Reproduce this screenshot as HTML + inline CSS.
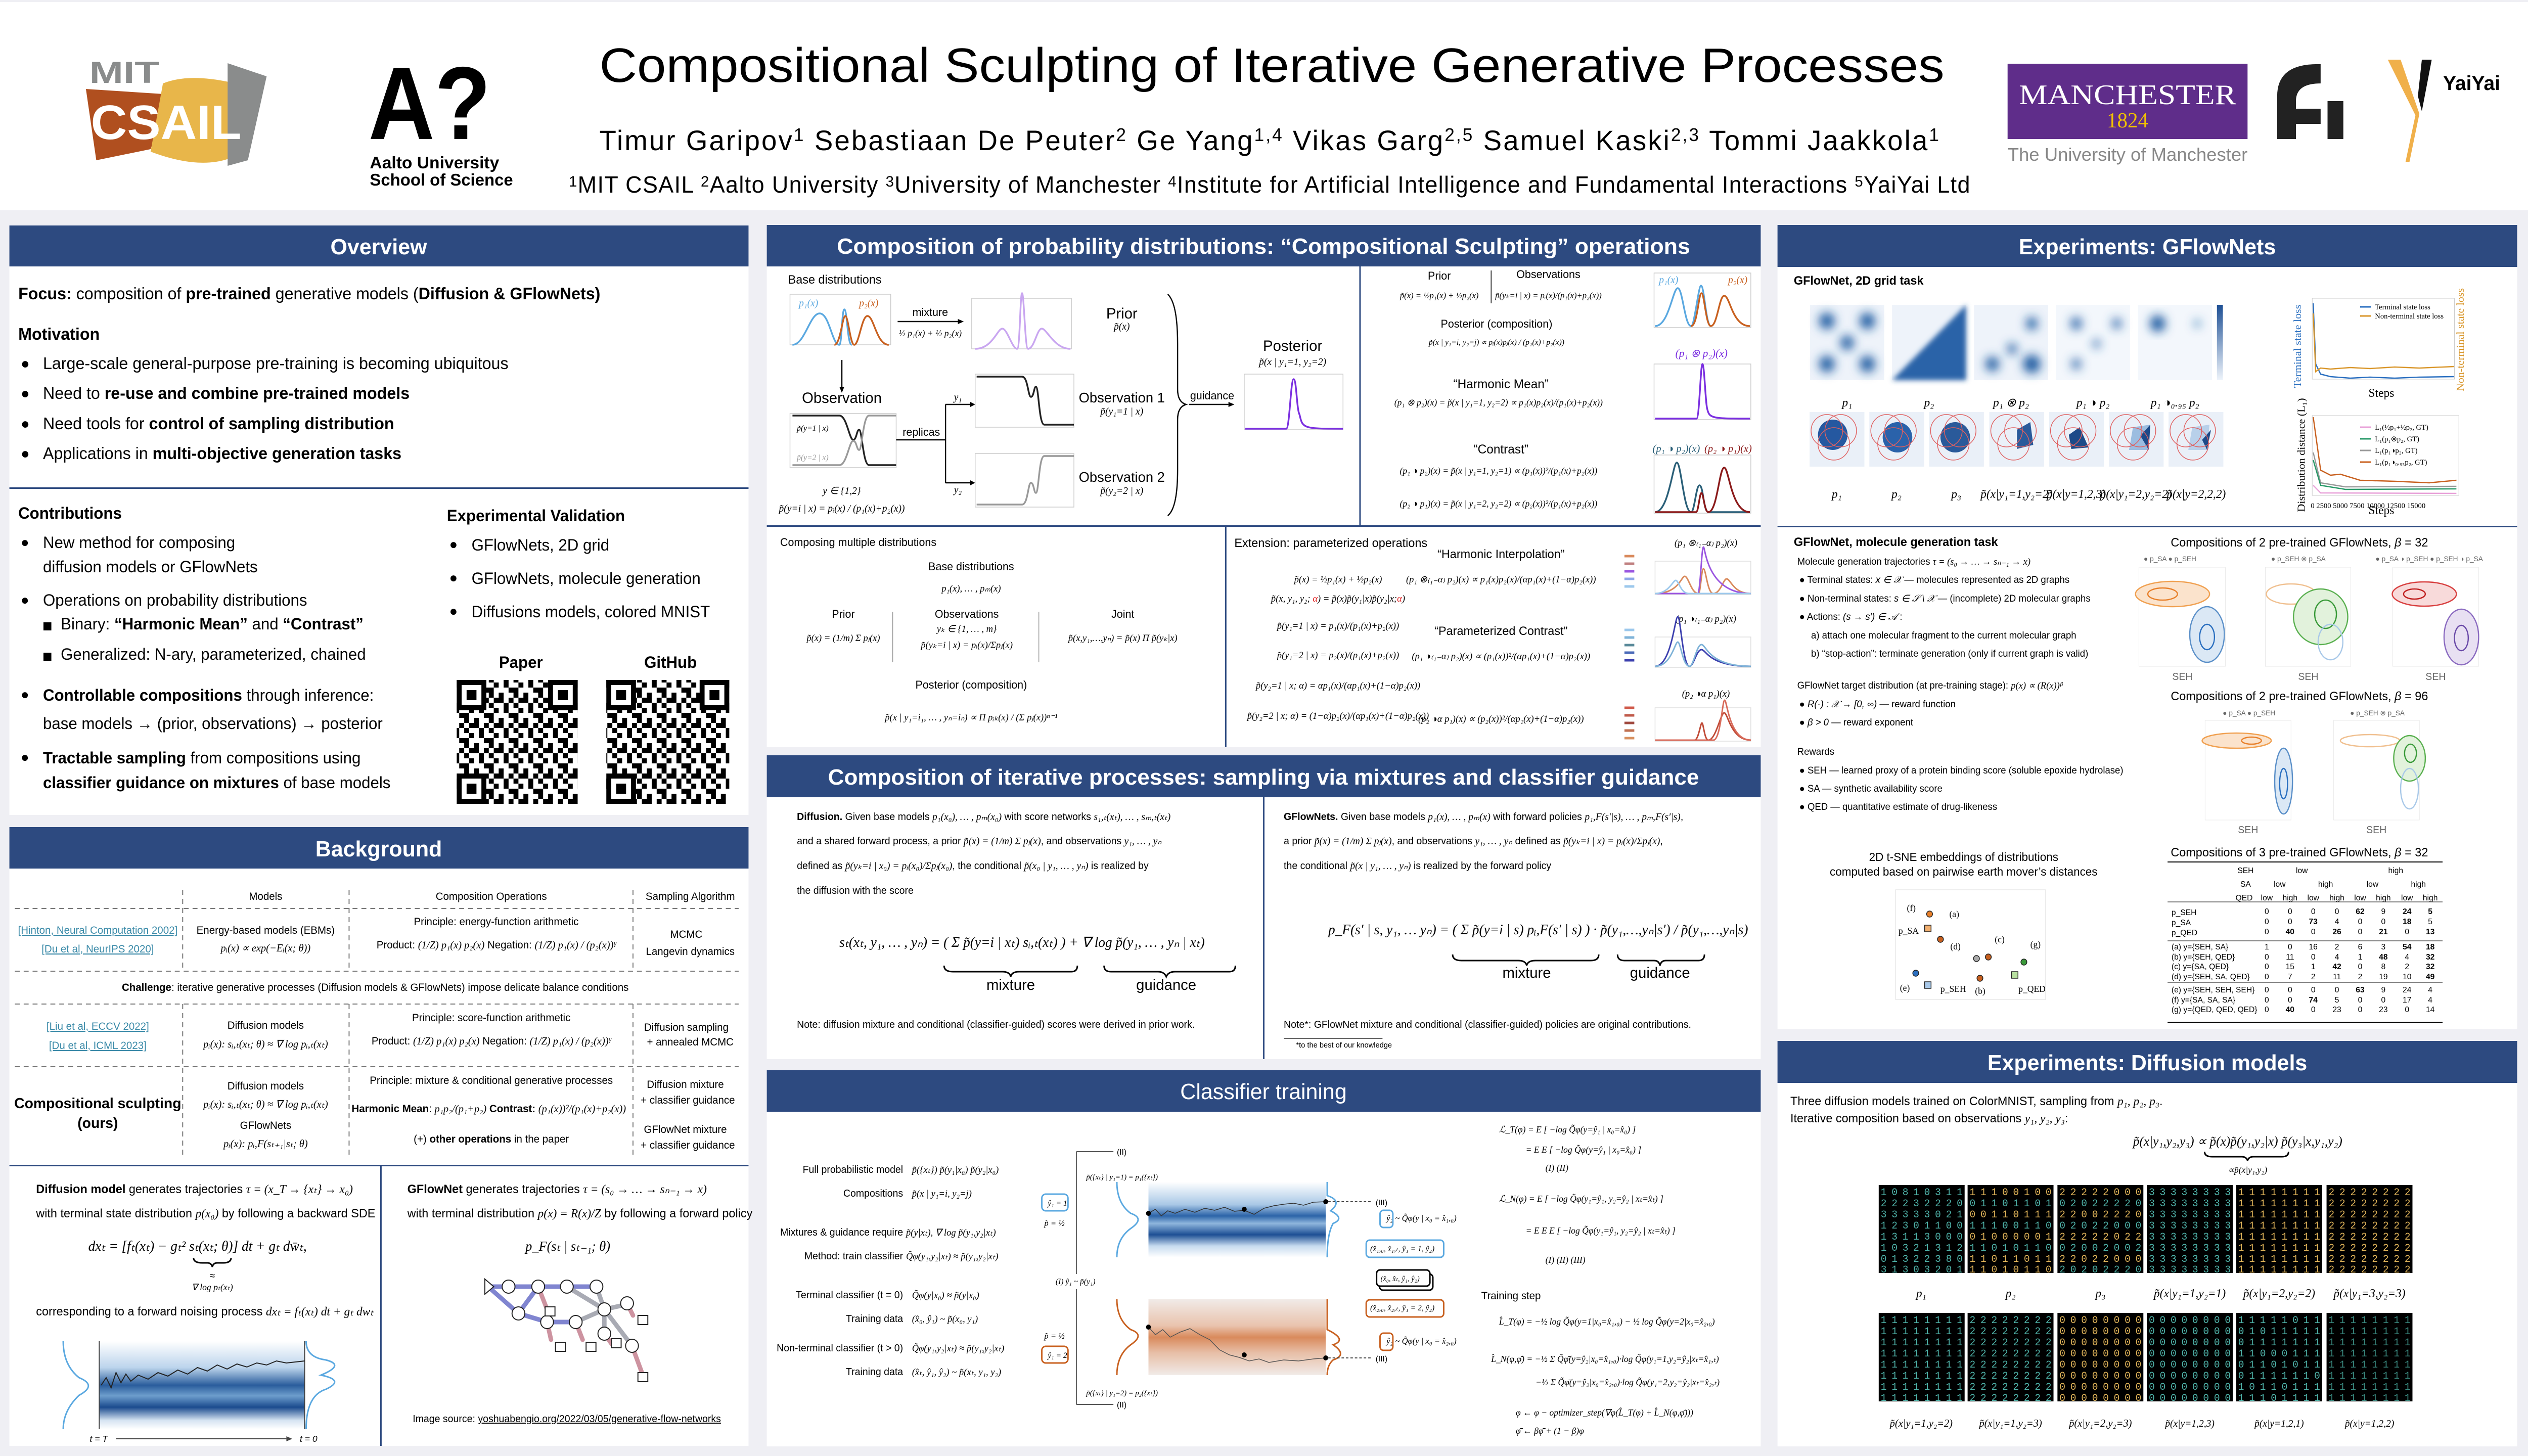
<!DOCTYPE html>
<html><head><meta charset="utf-8"><style>
html,body{margin:0;padding:0;background:#efeff4;width:100%;height:100%;overflow:hidden}
svg{display:block;width:100vw;height:100vh}
</style></head><body>
<svg xmlns="http://www.w3.org/2000/svg" viewBox="0 0 5120 2880" preserveAspectRatio="none" font-family="Liberation Sans, sans-serif">
<defs>
<filter id="bl" x="-50%" y="-50%" width="200%" height="200%"><feGaussianBlur stdDeviation="10"/></filter>
<filter id="bl2" x="-50%" y="-50%" width="200%" height="200%"><feGaussianBlur stdDeviation="5"/></filter>
<pattern id="qr" width="50" height="50" patternUnits="userSpaceOnUse">
<rect width="50" height="50" fill="#fff"/>
<rect x="0" y="0" width="10" height="10"/><rect x="20" y="0" width="10" height="10"/><rect x="30" y="10" width="20" height="10"/><rect x="10" y="20" width="10" height="10"/><rect x="40" y="20" width="10" height="10"/><rect x="0" y="30" width="20" height="10"/><rect x="30" y="30" width="10" height="10"/><rect x="20" y="40" width="10" height="10"/><rect x="40" y="40" width="10" height="10"/>
</pattern>
<linearGradient id="lg1" x1="0" y1="0" x2="0" y2="1"><stop offset="0" stop-color="#fff"/><stop offset="0.3" stop-color="#a9c8e6"/><stop offset="0.45" stop-color="#2c64a8"/><stop offset="0.55" stop-color="#8fb6dd"/><stop offset="0.7" stop-color="#1d4f94"/><stop offset="0.85" stop-color="#c7dbef"/><stop offset="1" stop-color="#fff"/></linearGradient>
<linearGradient id="lg2" x1="0" y1="0" x2="0" y2="1"><stop offset="0" stop-color="#f1ebe8"/><stop offset="0.35" stop-color="#e9c3ad"/><stop offset="0.5" stop-color="#d98a5c"/><stop offset="0.7" stop-color="#e7bda5"/><stop offset="1" stop-color="#f1ebe8"/></linearGradient>
<linearGradient id="lg3" x1="0" y1="0" x2="0" y2="1"><stop offset="0" stop-color="#fff"/><stop offset="0.3" stop-color="#bcd4ec"/><stop offset="0.5" stop-color="#2a5d9c"/><stop offset="0.62" stop-color="#6d9dcc"/><stop offset="0.75" stop-color="#1b4b8e"/><stop offset="0.9" stop-color="#d6e4f2"/><stop offset="1" stop-color="#fff"/></linearGradient>
<linearGradient id="cb" x1="0" y1="0" x2="0" y2="1"><stop offset="0" stop-color="#1d4f94"/><stop offset="1" stop-color="#eef4fb"/></linearGradient>
</defs>
<rect width="5120" height="2880" fill="#efeff4"/>
<!-- HEADER -->
<rect x="0" y="4" width="5120" height="412" fill="#fff"/>
<text x="181" y="164" font-size="60" font-weight="bold" fill="#8a8c8c" textLength="142" lengthAdjust="spacingAndGlyphs">MIT</text>
<polygon points="174,176 347,187 305,295 195,317" fill="#b04f1f"/>
<path d="M330,165 Q380,145 463,162 L463,314 Q400,335 305,300 Z" fill="#e8b64a"/>
<polygon points="461,125 540,151 502,317 461,328" fill="#8a8c8c"/>
<text x="184" y="275" font-size="96" font-weight="bold" fill="#fff" textLength="305" lengthAdjust="spacingAndGlyphs">CSAIL</text>
<text x="746" y="275" font-size="205" font-weight="bold" fill="#000" textLength="248" lengthAdjust="spacingAndGlyphs">A?</text>
<text x="749" y="333" font-size="33" font-weight="bold" textLength="262" lengthAdjust="spacingAndGlyphs">Aalto University</text>
<text x="749" y="367" font-size="33" font-weight="bold" textLength="290" lengthAdjust="spacingAndGlyphs">School of Science</text>
<text x="2576" y="162" font-size="96" text-anchor="middle" textLength="2724" lengthAdjust="spacingAndGlyphs">Compositional Sculpting of Iterative Generative Processes</text>
<text x="1214" y="297" font-size="56" textLength="2713" lengthAdjust="spacing">Timur Garipov<tspan font-size="36" dy="-18">1</tspan><tspan dy="18">   Sebastiaan De Peuter</tspan><tspan font-size="36" dy="-18">2</tspan><tspan dy="18">   Ge Yang</tspan><tspan font-size="36" dy="-18">1,4</tspan><tspan dy="18">   Vikas Garg</tspan><tspan font-size="36" dy="-18">2,5</tspan><tspan dy="18">   Samuel Kaski</tspan><tspan font-size="36" dy="-18">2,3</tspan><tspan dy="18">   Tommi Jaakkola</tspan><tspan font-size="36" dy="-18">1</tspan></text>
<text x="1152" y="381" font-size="46" textLength="2838" lengthAdjust="spacing"><tspan font-size="30" dy="-12">1</tspan><tspan dy="12">MIT CSAIL   </tspan><tspan font-size="30" dy="-12">2</tspan><tspan dy="12">Aalto University   </tspan><tspan font-size="30" dy="-12">3</tspan><tspan dy="12">University of Manchester   </tspan><tspan font-size="30" dy="-12">4</tspan><tspan dy="12">Institute for Artificial Intelligence and Fundamental Interactions   </tspan><tspan font-size="30" dy="-12">5</tspan><tspan dy="12">YaiYai Ltd</tspan></text>
<rect x="4066" y="126" width="486" height="149" fill="#5f2d8a"/>
<text x="4309" y="206" font-size="56" fill="#fff" text-anchor="middle" font-family="Liberation Serif, serif" textLength="440" lengthAdjust="spacingAndGlyphs">MANCHESTER</text>
<text x="4309" y="252" font-size="42" fill="#f2c200" text-anchor="middle" font-family="Liberation Serif, serif">1824</text>
<text x="4309" y="318" font-size="36" fill="#888" text-anchor="middle" textLength="486" lengthAdjust="spacingAndGlyphs">The University of Manchester</text>
<path d="M4612,275 L4612,190 Q4612,128 4690,127 L4700,127 L4700,165 Q4650,165 4650,200 L4650,215 L4700,215 L4700,245 L4650,245 L4650,275 Z" fill="#222"/>
<rect x="4714" y="200" width="32" height="75" fill="#222"/>
<polygon points="4836,118 4862,118 4900,225 4880,320 4872,320 4892,228" fill="#f0b04a"/>
<polygon points="4905,118 4925,118 4905,220 4897,190" fill="#111"/>
<text x="4948" y="178" font-size="40" font-weight="bold">YaiYai</text>

<!-- PANELS -->
<g fill="#fff">
<rect x="19" y="446" width="1497" height="1166"/>
<rect x="19" y="1636" width="1497" height="1224"/>
<rect x="1553" y="445" width="2013" height="1033"/>
<rect x="1553" y="1494" width="2013" height="601"/>
<rect x="1553" y="2117" width="2013" height="744"/>
<rect x="3600" y="445" width="1498" height="1591"/>
<rect x="3600" y="2059" width="1498" height="802"/>
</g>
<g fill="#2d4a80">
<rect x="19" y="446" width="1497" height="81"/>
<rect x="19" y="1636" width="1497" height="82"/>
<rect x="1553" y="445" width="2013" height="82"/>
<rect x="1553" y="1494" width="2013" height="83"/>
<rect x="1553" y="2117" width="2013" height="82"/>
<rect x="3600" y="445" width="1498" height="83"/>
<rect x="3600" y="2059" width="1498" height="83"/>
</g>
<g fill="#fff" font-weight="bold" font-size="44" text-anchor="middle">
<text x="767" y="503">Overview</text>
<text x="767" y="1694">Background</text>
<text x="2559" y="502" textLength="1728" lengthAdjust="spacingAndGlyphs">Composition of probability distributions: “Compositional Sculpting” operations</text>
<text x="2559" y="1552" textLength="1764" lengthAdjust="spacingAndGlyphs">Composition of iterative processes: sampling via mixtures and classifier guidance</text>
<text x="2559" y="2174" font-weight="normal">Classifier training</text>
<text x="4349" y="503">Experiments: GFlowNets</text>
<text x="4349" y="2117">Experiments: Diffusion models</text>
</g>

<!-- OVERVIEW -->
<g font-size="33">
<text x="37" y="592"><tspan font-weight="bold">Focus:</tspan> composition of <tspan font-weight="bold">pre-trained</tspan> generative models (<tspan font-weight="bold">Diffusion &amp; GFlowNets)</tspan></text>
<text x="37" y="672" font-weight="bold">Motivation</text>
<g font-size="30"><text x="42" y="729">●</text><text x="42" y="788">●</text><text x="42" y="848">●</text><text x="42" y="907">●</text></g>
<text x="87" y="730">Large-scale general-purpose pre-training is becoming ubiquitous</text>
<text x="87" y="789">Need to <tspan font-weight="bold">re-use and combine pre-trained models</tspan></text>
<text x="87" y="849">Need tools for <tspan font-weight="bold">control of sampling distribution</tspan></text>
<text x="87" y="908">Applications in <tspan font-weight="bold">multi-objective generation tasks</tspan></text>
</g>
<rect x="19" y="964" width="1497" height="3" fill="#2d4a80"/>
<g font-size="32">
<text x="37" y="1026" font-weight="bold">Contributions</text>
<g font-size="28"><text x="42" y="1082">●</text><text x="42" y="1196">●</text><text x="42" y="1383">●</text><text x="42" y="1507">●</text></g>
<text x="87" y="1084">New method for composing</text>
<text x="87" y="1132">diffusion models or GFlowNets</text>
<text x="87" y="1198">Operations on probability distributions</text>
<rect x="88" y="1231" width="16" height="16"/><rect x="88" y="1291" width="16" height="16"/>
<text x="123" y="1245">Binary: <tspan font-weight="bold">“Harmonic Mean”</tspan> and <tspan font-weight="bold">“Contrast”</tspan></text>
<text x="123" y="1305">Generalized: N-ary, parameterized, chained</text>
<text x="87" y="1386"><tspan font-weight="bold">Controllable compositions</tspan> through inference:</text>
<text x="87" y="1442">base models → (prior, observations) → posterior</text>
<text x="87" y="1510"><tspan font-weight="bold">Tractable sampling</tspan> from compositions using</text>
<text x="87" y="1559"><tspan font-weight="bold">classifier guidance on mixtures</tspan> of base models</text>
<text x="905" y="1031" font-weight="bold">Experimental Validation</text>
<g font-size="28"><text x="910" y="1086">●</text><text x="910" y="1152">●</text><text x="910" y="1218">●</text></g>
<text x="955" y="1089">GFlowNets, 2D grid</text>
<text x="955" y="1155">GFlowNets, molecule generation</text>
<text x="955" y="1221">Diffusions models, colored MNIST</text>
<text x="1055" y="1321" font-weight="bold" text-anchor="middle">Paper</text>
<text x="1358" y="1321" font-weight="bold" text-anchor="middle">GitHub</text>
</g>
<g>
<rect x="925" y="1345" width="245" height="245" fill="url(#qr)"/>
<rect x="1228" y="1345" width="249" height="245" fill="url(#qr)"/>
<g fill="#fff" stroke="#000" stroke-width="10">
<rect x="930" y="1350" width="50" height="50"/><rect x="1115" y="1350" width="50" height="50"/><rect x="930" y="1535" width="50" height="50"/>
<rect x="1233" y="1350" width="50" height="50"/><rect x="1422" y="1350" width="50" height="50"/><rect x="1233" y="1535" width="50" height="50"/>
</g>
<g fill="#000"><rect x="945" y="1365" width="20" height="20"/><rect x="1130" y="1365" width="20" height="20"/><rect x="945" y="1550" width="20" height="20"/><rect x="1248" y="1365" width="20" height="20"/><rect x="1437" y="1365" width="20" height="20"/><rect x="1248" y="1550" width="20" height="20"/></g>
</g>

<!-- BACKGROUND TABLE -->
<g stroke="#777" stroke-width="2" stroke-dasharray="10,8">
<line x1="370" y1="1760" x2="370" y2="1921"/><line x1="707" y1="1760" x2="707" y2="1921"/><line x1="1282" y1="1760" x2="1282" y2="1921"/>
<line x1="370" y1="1986" x2="370" y2="2290"/><line x1="707" y1="1986" x2="707" y2="2290"/><line x1="1282" y1="1986" x2="1282" y2="2290"/>
<line x1="30" y1="1797" x2="1496" y2="1797"/><line x1="30" y1="1921" x2="1496" y2="1921"/><line x1="30" y1="1986" x2="1496" y2="1986"/><line x1="30" y1="2110" x2="1496" y2="2110"/>
</g>
<g font-size="21" text-anchor="middle">
<text x="538" y="1780">Models</text><text x="995" y="1780">Composition Operations</text><text x="1398" y="1780">Sampling Algorithm</text>
<g fill="#3a8aa8" text-decoration="underline"><text x="198" y="1847">[Hinton, Neural Computation 2002]</text><text x="198" y="1884">[Du et al, NeurIPS 2020]</text><text x="198" y="2037">[Liu et al, ECCV 2022]</text><text x="198" y="2075">[Du et al, ICML 2023]</text></g>
<text x="538" y="1847">Energy-based models (EBMs)</text>
<text x="538" y="1882" font-family="Liberation Serif, serif" font-style="italic">pᵢ(x) ∝ exp(−Eᵢ(x; θ))</text>
<text x="1005" y="1830">Principle: energy-function arithmetic</text>
<text x="1005" y="1876">Product: <tspan font-family="Liberation Serif, serif" font-style="italic">(1/Z) p₁(x) p₂(x)</tspan>    Negation: <tspan font-family="Liberation Serif, serif" font-style="italic">(1/Z) p₁(x) / (p₂(x))ᵞ</tspan></text>
<text x="1390" y="1855">MCMC</text><text x="1398" y="1889">Langevin dynamics</text>
<text x="760" y="1960"><tspan font-weight="bold">Challenge</tspan>: iterative generative processes (Diffusion models &amp; GFlowNets) impose delicate balance conditions</text>
<text x="538" y="2035">Diffusion models</text>
<text x="538" y="2072" font-family="Liberation Serif, serif" font-style="italic">pᵢ(x): sᵢ,ₜ(xₜ; θ) ≈ ∇ log pᵢ,ₜ(xₜ)</text>
<text x="995" y="2020">Principle: score-function arithmetic</text>
<text x="995" y="2066">Product: <tspan font-family="Liberation Serif, serif" font-style="italic">(1/Z) p₁(x) p₂(x)</tspan>    Negation: <tspan font-family="Liberation Serif, serif" font-style="italic">(1/Z) p₁(x) / (p₂(x))ᵞ</tspan></text>
<text x="1390" y="2039">Diffusion sampling</text><text x="1398" y="2068">+ annealed MCMC</text>
<text x="198" y="2192" font-size="29" font-weight="bold">Compositional sculpting</text>
<text x="198" y="2231" font-size="29" font-weight="bold">(ours)</text>
<text x="538" y="2155">Diffusion models</text>
<text x="538" y="2191" font-family="Liberation Serif, serif" font-style="italic">pᵢ(x): sᵢ,ₜ(xₜ; θ) ≈ ∇ log pᵢ,ₜ(xₜ)</text>
<text x="538" y="2233">GFlowNets</text>
<text x="538" y="2269" font-family="Liberation Serif, serif" font-style="italic">pᵢ(x): pᵢ,F(sₜ₊₁|sₜ; θ)</text>
<text x="995" y="2144">Principle: mixture &amp; conditional generative processes</text>
<text x="990" y="2200"><tspan font-weight="bold">Harmonic Mean</tspan>: <tspan font-family="Liberation Serif, serif" font-style="italic">p₁p₂/(p₁+p₂)</tspan>   <tspan font-weight="bold">Contrast:</tspan> <tspan font-family="Liberation Serif, serif" font-style="italic">(p₁(x))²/(p₁(x)+p₂(x))</tspan></text>
<text x="995" y="2260">(+) <tspan font-weight="bold">other operations</tspan> in the paper</text>
<text x="1388" y="2152">Diffusion mixture</text><text x="1393" y="2183">+ classifier guidance</text>
<text x="1388" y="2241">GFlowNet mixture</text><text x="1393" y="2272">+ classifier guidance</text>
</g>
<rect x="19" y="2304" width="1497" height="3" fill="#2d4a80"/>
<rect x="770" y="2304" width="3" height="556" fill="#2d4a80"/>
<g font-size="24">
<text x="73" y="2360"><tspan font-weight="bold">Diffusion model</tspan> generates trajectories <tspan font-family="Liberation Serif, serif" font-style="italic">τ = (x_T → {xₜ} → x₀)</tspan></text>
<text x="73" y="2408">with terminal state distribution <tspan font-family="Liberation Serif, serif" font-style="italic">p(x₀)</tspan> by following a backward SDE</text>
<text x="400" y="2474" text-anchor="middle" font-family="Liberation Serif, serif" font-style="italic" font-size="28">dxₜ = [fₜ(xₜ) − gₜ² sₜ(xₜ; θ)] dt + gₜ dw̄ₜ,</text>
<path d="M392,2488 Q392,2498 410,2498 L420,2498 Q428,2498 430,2506 Q432,2498 440,2498 L452,2498 Q468,2498 468,2488" fill="none" stroke="#000" stroke-width="3"/>
<text x="430" y="2530" text-anchor="middle" font-size="20">≈</text>
<text x="430" y="2552" text-anchor="middle" font-size="18" font-family="Liberation Serif, serif" font-style="italic">∇ log pₜ(xₜ)</text>
<text x="73" y="2602">corresponding to a forward noising process <tspan font-family="Liberation Serif, serif" font-style="italic">dxₜ = fₜ(xₜ) dt + gₜ dwₜ</tspan></text>
<text x="825" y="2360"><tspan font-weight="bold">GFlowNet</tspan> generates trajectories <tspan font-family="Liberation Serif, serif" font-style="italic">τ = (s₀ → … → sₙ₋₁ → x)</tspan></text>
<text x="825" y="2408">with terminal distribution <tspan font-family="Liberation Serif, serif" font-style="italic">p(x) = R(x)/Z</tspan> by following a forward policy</text>
<text x="1150" y="2474" text-anchor="middle" font-family="Liberation Serif, serif" font-style="italic" font-size="27">p_F(sₜ | sₜ₋₁; θ)</text>
<text x="1148" y="2813" text-anchor="middle" font-size="20">Image source: <tspan text-decoration="underline">yoshuabengio.org/2022/03/05/generative-flow-networks</tspan></text>
</g>
<rect x="201" y="2653" width="416" height="174" fill="url(#lg3)"/>
<line x1="201" y1="2653" x2="201" y2="2827" stroke="#444" stroke-width="2"/><line x1="617" y1="2653" x2="617" y2="2827" stroke="#444" stroke-width="2"/>
<path d="M205,2740 L215,2725 L225,2745 L235,2715 L245,2735 L255,2718 L265,2732 L280,2720 L300,2728 L320,2715 L340,2722 L360,2710 L380,2718 L400,2705 L420,2712 L440,2700 L460,2708 L480,2698 L500,2704 L520,2696 L540,2700 L560,2692 L580,2696 L617,2692" fill="none" stroke="#222" stroke-width="2"/>
<path d="M128,2653 Q128,2700 160,2725 Q198,2740 160,2760 Q128,2790 128,2827" fill="none" stroke="#5aa8e0" stroke-width="3"/>
<path d="M620,2653 Q620,2685 660,2690 Q700,2700 650,2720 Q700,2730 660,2748 Q620,2760 620,2827" fill="none" stroke="#5aa8e0" stroke-width="3"/>
<text x="200" y="2852" font-size="18" font-style="italic" text-anchor="middle">t = T</text><text x="625" y="2852" font-size="18" font-style="italic" text-anchor="middle">t = 0</text>
<line x1="235" y1="2846" x2="580" y2="2846" stroke="#444" stroke-width="2"/><path d="M580,2841 L592,2846 L580,2851 Z" fill="#444"/>
<!-- gflownet graph -->
<g stroke-width="9" fill="none" stroke-linecap="round">
<path d="M992,2545 L1030,2545 L1090,2545 L1148,2545 L1208,2545 M992,2548 L1050,2598 M1050,2598 L1108,2615 L1166,2615 M1050,2598 L1090,2545" stroke="#6a70c8" opacity="0.85"/>
<path d="M1166,2615 L1224,2590 L1270,2580 M1208,2545 L1224,2590 M1148,2545 L1224,2590 L1224,2638 M1224,2590 L1280,2662" stroke="#a9abb4"/>
<path d="M1090,2545 L1108,2590 M1108,2615 L1116,2650 M1166,2615 L1180,2650 M1270,2578 L1282,2602 M1224,2638 L1240,2660 M1280,2662 L1300,2715" stroke="#c07888" opacity="0.8"/>
</g>
<g fill="#fff" stroke="#222" stroke-width="2" font-size="14" font-style="italic" text-anchor="middle">
<polygon points="982,2530 1000,2545 982,2560"/>
<circle cx="1030" cy="2545" r="13"/><circle cx="1090" cy="2545" r="13"/><circle cx="1148" cy="2545" r="13"/><circle cx="1208" cy="2545" r="13"/><circle cx="1050" cy="2598" r="13"/><circle cx="1108" cy="2615" r="13"/><circle cx="1166" cy="2615" r="13"/><circle cx="1224" cy="2590" r="13"/><circle cx="1270" cy="2578" r="13"/><circle cx="1224" cy="2638" r="13"/><circle cx="1280" cy="2662" r="13"/>
<rect x="1104" y="2585" width="20" height="18"/><rect x="1125" y="2655" width="20" height="18"/><rect x="1187" y="2655" width="20" height="18"/><rect x="1238" y="2648" width="20" height="18"/><rect x="1292" y="2602" width="20" height="18"/><rect x="1292" y="2715" width="20" height="18"/>
</g>

<!-- MIDDLE TOP -->
<g font-size="24">
<text x="1596" y="561">Base distributions</text>
</g>
<g stroke="#ccc" stroke-width="1.5" fill="none">
<rect x="1600" y="582" width="204" height="100"/><rect x="1968" y="590" width="202" height="100"/><rect x="1600" y="818" width="215" height="107"/><rect x="1975" y="740" width="200" height="105"/><rect x="1975" y="897" width="200" height="106"/><rect x="2520" y="740" width="200" height="110"/>
<rect x="3350" y="540" width="196" height="108"/><rect x="3350" y="720" width="196" height="110"/><rect x="3350" y="900" width="196" height="115"/>
</g>
<g fill="none" stroke-width="3.5">
<path d="M1605,682 C1630,682 1640,620 1660,620 C1680,620 1685,682 1700,682 C1705,682 1705,612 1710,612 C1716,612 1716,682 1725,682" stroke="#5aa8e0"/>
<path d="M1690,682 C1702,682 1706,625 1712,625 C1718,625 1722,682 1730,682 C1740,682 1745,625 1757,625 C1770,625 1775,682 1800,682" stroke="#c8601f"/>
<path d="M1975,690 C2010,690 2020,650 2030,650 C2040,650 2050,690 2060,690 C2066,690 2066,580 2070,580 C2074,580 2076,690 2082,690 C2095,690 2100,650 2110,650 C2120,650 2135,690 2168,690" stroke="#c9a6f0"/>
<path d="M1605,822 L1700,822 C1715,822 1720,870 1728,870 C1735,870 1735,850 1740,850 C1746,850 1748,920 1760,920 L1815,920" stroke="#222"/>
<path d="M1605,920 L1700,920 C1715,920 1720,872 1728,872 C1735,872 1735,890 1740,890 C1746,890 1748,822 1760,822 L1815,822" stroke="#999"/>
<path d="M1978,745 L2070,745 C2082,745 2082,785 2088,785 C2094,785 2094,765 2098,765 C2104,765 2104,840 2115,840 L2175,840" stroke="#222"/>
<path d="M1978,998 L2070,998 C2082,998 2082,955 2088,955 C2094,955 2094,975 2098,975 C2104,975 2104,902 2115,902 L2175,902" stroke="#999"/>
<path d="M2522,848 L2605,848 C2612,848 2614,750 2620,750 C2626,750 2626,810 2632,820 C2638,848 2640,848 2720,848" stroke="#7b2fe0"/>
<path d="M3352,645 C3380,645 3388,570 3398,570 C3408,570 3412,645 3425,645 C3432,645 3440,565 3445,565 C3452,565 3455,645 3465,645" stroke="#5aa8e0"/>
<path d="M3425,645 C3438,645 3440,580 3446,580 C3452,580 3455,645 3465,645 C3478,645 3482,585 3492,585 C3504,585 3508,645 3544,645" stroke="#c8601f"/>
<path d="M3352,828 L3436,828 C3442,828 3444,720 3448,720 C3452,720 3454,800 3458,810 C3462,828 3470,828 3544,828" stroke="#7b2fe0"/>
<path d="M3352,1013 C3380,1013 3388,915 3396,915 C3405,915 3410,1013 3425,1013 C3432,1013 3435,960 3442,960 C3450,960 3450,1013 3460,1013 L3544,1013" stroke="#2a5f78"/>
<path d="M3352,1013 L3435,1013 C3440,1013 3442,975 3446,975 C3450,975 3452,1013 3460,1013 C3478,1013 3482,925 3492,925 C3502,925 3506,1013 3544,1013" stroke="#8b1a1a"/>
</g>
<g font-family="Liberation Serif, serif" font-style="italic" font-size="20">
<text x="1618" y="606" fill="#5aa8e0">p₁(x)</text><text x="1740" y="606" fill="#c8601f">p₂(x)</text>
<text x="1884" y="665" text-anchor="middle" font-size="18" fill="#000">½ p₁(x) + ½ p₂(x)</text>
<text x="1614" y="852" font-size="16">p̃(y=1 | x)</text><text x="1614" y="910" font-size="16" fill="#999">p̃(y=2 | x)</text>
<text x="1932" y="792" font-size="20">y₁</text><text x="1932" y="975" font-size="20">y₂</text>
<text x="2272" y="652" text-anchor="middle">p̃(x)</text>
<text x="2272" y="820" text-anchor="middle">p̃(y₁=1 | x)</text>
<text x="2272" y="977" text-anchor="middle">p̃(y₂=2 | x)</text>
<text x="2618" y="722" text-anchor="middle">p̃(x | y₁=1, y₂=2)</text>
<text x="1705" y="977" text-anchor="middle">y ∈ {1,2}</text>
<text x="1705" y="1012" text-anchor="middle">p̃(y=i | x) = pᵢ(x) / (p₁(x)+p₂(x))</text>
<text x="3360" y="560" fill="#5aa8e0">p₁(x)</text><text x="3500" y="560" fill="#c8601f">p₂(x)</text>
<text x="3446" y="706" text-anchor="middle" fill="#7b2fe0" font-size="22">(p₁ ⊗ p₂)(x)</text>
<text x="3395" y="894" text-anchor="middle" fill="#2a5f78" font-size="21">(p₁ ◑ p₂)(x)</text><text x="3500" y="894" text-anchor="middle" fill="#8b1a1a" font-size="21">(p₂ ◑ p₁)(x)</text>
<text x="2915" y="590" text-anchor="middle" font-size="17">p̃(x) = ½p₁(x) + ½p₂(x)</text>
<text x="3136" y="590" text-anchor="middle" font-size="17">p̃(yₖ=i | x) = pᵢ(x)/(p₁(x)+p₂(x))</text>
<text x="3031" y="682" text-anchor="middle" font-size="16">p̃(x | y₁=i, y₂=j) ∝ pᵢ(x)pⱼ(x) / (p₁(x)+p₂(x))</text>
<text x="3035" y="802" text-anchor="middle" font-size="18">(p₁ ⊗ p₂)(x) = p̃(x | y₁=1, y₂=2) ∝ p₁(x)p₂(x)/(p₁(x)+p₂(x))</text>
<text x="3035" y="937" text-anchor="middle" font-size="18">(p₁ ◑ p₂)(x) = p̃(x | y₁=1, y₂=1) ∝ (p₁(x))²/(p₁(x)+p₂(x))</text>
<text x="3035" y="1002" text-anchor="middle" font-size="18">(p₂ ◑ p₁)(x) = p̃(x | y₁=2, y₂=2) ∝ (p₂(x))²/(p₁(x)+p₂(x))</text>
</g>
<g font-size="26" text-anchor="middle">
<text x="1884" y="625" font-size="22">mixture</text>
<text x="2272" y="630" font-size="30">Prior</text>
<text x="1705" y="797" font-size="30">Observation</text>
<text x="1866" y="862" font-size="22">replicas</text>
<text x="2272" y="796" font-size="28">Observation 1</text>
<text x="2272" y="953" font-size="28">Observation 2</text>
<text x="2455" y="790" font-size="22">guidance</text>
<text x="2618" y="694" font-size="30">Posterior</text>
<text x="2915" y="553" font-size="22">Prior</text><text x="3136" y="550" font-size="22">Observations</text>
<text x="3031" y="648" font-size="22">Posterior (composition)</text>
<text x="3040" y="768" font-size="25">“Harmonic Mean”</text>
<text x="3040" y="897" font-size="25">“Contrast”</text>
</g>
<g stroke="#000" stroke-width="2.5" fill="none">
<line x1="1818" y1="636" x2="1940" y2="636"/><line x1="1705" y1="712" x2="1705" y2="765"/>
<line x1="1815" y1="870" x2="1915" y2="870"/><line x1="1915" y1="800" x2="1915" y2="955"/><line x1="1915" y1="800" x2="1965" y2="800"/><line x1="1915" y1="955" x2="1965" y2="955"/>
<line x1="2408" y1="800" x2="2488" y2="800"/>
<path d="M2365,582 Q2385,600 2385,680 L2385,770 Q2385,795 2402,800 Q2385,805 2385,830 L2385,930 Q2385,1005 2365,1020"/>
<line x1="3020" y1="535" x2="3020" y2="600" stroke-width="1.5"/>
</g>
<g fill="#000"><path d="M1940,631 L1952,636 L1940,641Z"/><path d="M1700,765 L1705,777 L1710,765Z"/><path d="M1965,795 L1975,800 L1965,805Z"/><path d="M1965,950 L1975,955 L1965,960Z"/><path d="M2488,795 L2500,800 L2488,805Z"/></g>
<rect x="2753" y="527" width="3" height="513" fill="#2d4a80"/>
<rect x="1553" y="1039" width="2013" height="3" fill="#2d4a80"/>
<rect x="2481" y="1040" width="3" height="438" fill="#2d4a80"/>
<!-- lower middle -->
<g font-size="22" text-anchor="middle">
<text x="1580" y="1080" text-anchor="start">Composing multiple distributions</text>
<text x="1967" y="1128">Base distributions</text>
<text x="1708" y="1222">Prior</text><text x="1958" y="1222">Observations</text><text x="2274" y="1222">Joint</text>
<text x="1967" y="1362">Posterior (composition)</text>
<text x="2500" y="1082" text-anchor="start" font-size="24">Extension: parameterized operations</text>
<text x="3040" y="1104" font-size="24">“Harmonic Interpolation”</text>
<text x="3040" y="1256" font-size="24">“Parameterized Contrast”</text>
</g>
<g stroke="#999" stroke-width="1.5"><line x1="1808" y1="1210" x2="1808" y2="1310"/><line x1="2104" y1="1210" x2="2104" y2="1310"/></g>
<g font-family="Liberation Serif, serif" font-style="italic" font-size="19" text-anchor="middle">
<text x="1967" y="1170">p₁(x), … , pₘ(x)</text>
<text x="1708" y="1268">p̃(x) = (1/m) Σ pⱼ(x)</text>
<text x="1958" y="1250">yₖ ∈ {1, … , m}</text>
<text x="1958" y="1282">p̃(yₖ=i | x) = pᵢ(x)/Σpⱼ(x)</text>
<text x="2274" y="1268">p̃(x,y₁,…,yₙ) = p̃(x) Π p̃(yₖ|x)</text>
<text x="1967" y="1425">p̃(x | y₁=i₁, … , yₙ=iₙ) ∝ Π pᵢₖ(x) / (Σ pⱼ(x))ⁿ⁻¹</text>
<text x="2710" y="1152">p̃(x) = ½p₁(x) + ½p₂(x)</text>
<text x="2710" y="1190">p̃(x, y₁, y₂; <tspan fill="#e02020">α</tspan>) = p̃(x)p̃(y₁|x)p̃(y₂|x;<tspan fill="#e02020">α</tspan>)</text>
<text x="2710" y="1244">p̃(y₁=1 | x) = p₁(x)/(p₁(x)+p₂(x))</text>
<text x="2710" y="1302">p̃(y₁=2 | x) = p₂(x)/(p₁(x)+p₂(x))</text>
<text x="2710" y="1362">p̃(y₂=1 | x; α) = αp₁(x)/(αp₁(x)+(1−α)p₂(x))</text>
<text x="2710" y="1422">p̃(y₂=2 | x; α) = (1−α)p₂(x)/(αp₁(x)+(1−α)p₂(x))</text>
<text x="3040" y="1152">(p₁ ⊗₍₁₋α₎ p₂)(x) ∝ p₁(x)p₂(x)/(αp₁(x)+(1−α)p₂(x))</text>
<text x="3040" y="1304">(p₁ ◑₍₁₋α₎ p₂)(x) ∝ (p₁(x))²/(αp₁(x)+(1−α)p₂(x))</text>
<text x="3040" y="1428">(p₂ ◑α p₁)(x) ∝ (p₂(x))²/(αp₁(x)+(1−α)p₂(x))</text>
<text x="3455" y="1080">(p₁ ⊗₍₁₋α₎ p₂)(x)</text><text x="3455" y="1230">(p₁ ◑₍₁₋α₎ p₂)(x)</text><text x="3455" y="1378">(p₂ ◑α p₁)(x)</text>
</g>
<g fill="none" stroke-width="3">
<rect x="3352" y="1110" width="194" height="66" stroke="#ddd" stroke-width="1.5"/>
<path d="M3352,1174 C3400,1174 3405,1140 3412,1140 C3420,1140 3425,1174 3440,1174 C3444,1174 3446,1125 3450,1125 C3455,1125 3458,1174 3470,1174 C3485,1174 3490,1145 3497,1145 C3505,1145 3510,1174 3546,1174" stroke="#d98a5c"/>
<path d="M3352,1174 L3438,1174 C3444,1174 3446,1082 3450,1082 C3454,1082 3456,1174 3546,1174" stroke="#9a55e0"/>
<path d="M3352,1174 C3380,1174 3388,1148 3394,1148 C3400,1148 3404,1174 3420,1174 L3546,1174" stroke="#9cc8ec"/>
<rect x="3352" y="1260" width="194" height="60" stroke="#ddd" stroke-width="1.5"/>
<path d="M3352,1318 C3385,1318 3392,1220 3398,1220 C3404,1220 3408,1318 3422,1318 C3430,1318 3436,1285 3446,1285 C3456,1285 3460,1318 3546,1318" stroke="#3b3fae"/>
<path d="M3352,1318 C3385,1318 3392,1270 3398,1270 C3404,1270 3408,1318 3422,1318 C3430,1318 3436,1275 3446,1275 C3456,1275 3460,1318 3546,1318" stroke="#7fb3d8"/>
<rect x="3352" y="1400" width="194" height="66" stroke="#ddd" stroke-width="1.5"/>
<path d="M3352,1464 L3432,1464 C3440,1464 3444,1430 3447,1430 C3450,1430 3452,1464 3460,1464 C3475,1464 3485,1410 3492,1410 C3500,1410 3505,1464 3546,1464" stroke="#c04a36"/>
<path d="M3352,1464 L3470,1464 C3485,1464 3488,1385 3493,1385 C3498,1385 3502,1464 3546,1464" stroke="#d86a5a"/>
</g>
<g stroke-width="5"><line x1="3290" y1="1100" x2="3310" y2="1100" stroke="#d98a5c"/><line x1="3290" y1="1115" x2="3310" y2="1115" stroke="#c08080"/><line x1="3290" y1="1130" x2="3310" y2="1130" stroke="#9a55e0"/><line x1="3290" y1="1145" x2="3310" y2="1145" stroke="#8fa8e8"/><line x1="3290" y1="1160" x2="3310" y2="1160" stroke="#9cc8ec"/>
<line x1="3290" y1="1246" x2="3310" y2="1246" stroke="#9cc8ec"/><line x1="3290" y1="1261" x2="3310" y2="1261" stroke="#7fb3d8"/><line x1="3290" y1="1276" x2="3310" y2="1276" stroke="#5a8a9a"/><line x1="3290" y1="1291" x2="3310" y2="1291" stroke="#4a6ab8"/><line x1="3290" y1="1306" x2="3310" y2="1306" stroke="#3b3fae"/>
<line x1="3290" y1="1400" x2="3310" y2="1400" stroke="#d05a4a"/><line x1="3290" y1="1415" x2="3310" y2="1415" stroke="#c05a4a"/><line x1="3290" y1="1430" x2="3310" y2="1430" stroke="#a04a40"/><line x1="3290" y1="1445" x2="3310" y2="1445" stroke="#c07050"/><line x1="3290" y1="1460" x2="3310" y2="1460" stroke="#d89060"/></g>

<!-- ITERATIVE -->
<rect x="2558" y="1577" width="3" height="518" fill="#2d4a80"/>
<g font-size="20">
<text x="1614" y="1622"><tspan font-weight="bold">Diffusion.</tspan> Given base models <tspan font-style="italic" font-family="Liberation Serif, serif">p₁(x₀), … , pₘ(x₀)</tspan> with score networks <tspan font-style="italic" font-family="Liberation Serif, serif">s₁,ₜ(xₜ), … , sₘ,ₜ(xₜ)</tspan></text>
<text x="1614" y="1670">and a shared forward process, a prior <tspan font-style="italic" font-family="Liberation Serif, serif">p̃(x) = (1/m) Σ pⱼ(x)</tspan>, and observations <tspan font-style="italic" font-family="Liberation Serif, serif">y₁, … , yₙ</tspan></text>
<text x="1614" y="1719">defined as <tspan font-style="italic" font-family="Liberation Serif, serif">p̃(yₖ=i | x₀) = pᵢ(x₀)/Σpⱼ(x₀)</tspan>, the conditional <tspan font-style="italic" font-family="Liberation Serif, serif">p̃(x₀ | y₁, … , yₙ)</tspan> is realized by</text>
<text x="1614" y="1768">the diffusion with the score</text>
<text x="1614" y="2033">Note: diffusion mixture and conditional (classifier-guided) scores were derived in prior work.</text>
<text x="2600" y="1622"><tspan font-weight="bold">GFlowNets.</tspan> Given base models <tspan font-style="italic" font-family="Liberation Serif, serif">p₁(x), … , pₘ(x)</tspan> with forward policies <tspan font-style="italic" font-family="Liberation Serif, serif">p₁,F(s′|s), … , pₘ,F(s′|s)</tspan>,</text>
<text x="2600" y="1670">a prior <tspan font-style="italic" font-family="Liberation Serif, serif">p̃(x) = (1/m) Σ pⱼ(x)</tspan>, and observations <tspan font-style="italic" font-family="Liberation Serif, serif">y₁, … , yₙ</tspan> defined as <tspan font-style="italic" font-family="Liberation Serif, serif">p̃(yₖ=i | x) = pᵢ(x)/Σpⱼ(x)</tspan>,</text>
<text x="2600" y="1719">the conditional <tspan font-style="italic" font-family="Liberation Serif, serif">p̃(x | y₁, … , yₙ)</tspan> is realized by the forward policy</text>
<text x="2600" y="2033">Note*: GFlowNet mixture and conditional (classifier-guided) policies are original contributions.</text>
<text x="2625" y="2072" font-size="15">*to the best of our knowledge</text>
</g>
<line x1="2600" y1="2054" x2="2800" y2="2054" stroke="#666" stroke-width="2"/>
<g font-family="Liberation Serif, serif" font-style="italic" font-size="28">
<text x="1700" y="1873">sₜ(xₜ, y₁, … , yₙ) = ( Σ p̃(y=i | xₜ) sᵢ,ₜ(xₜ) ) + ∇ log p̃(y₁, … , yₙ | xₜ)</text>
<text x="2690" y="1848">p_F(s′ | s, y₁, … yₙ) = ( Σ p̃(y=i | s) pᵢ,F(s′ | s) ) · p̃(y₁,…,yₙ|s′) / p̃(y₁,…,yₙ|s)</text>
</g>
<g fill="none" stroke="#000" stroke-width="3">
<path d="M1912,1910 Q1912,1922 1930,1922 L2030,1922 Q2045,1922 2047,1932 Q2049,1922 2064,1922 L2170,1922 Q2182,1922 2182,1910"/>
<path d="M2236,1910 Q2236,1922 2250,1922 L2345,1922 Q2358,1922 2362,1932 Q2366,1922 2380,1922 L2490,1922 Q2502,1922 2502,1910"/>
<path d="M2942,1888 Q2942,1900 2960,1900 L3075,1900 Q3090,1900 3092,1910 Q3094,1900 3110,1900 L3222,1900 Q3238,1900 3238,1888"/>
<path d="M3276,1888 Q3276,1900 3290,1900 L3350,1900 Q3360,1900 3362,1910 Q3364,1900 3374,1900 L3440,1900 Q3452,1900 3452,1888"/>
</g>
<g font-size="30" text-anchor="middle"><text x="2047" y="1958">mixture</text><text x="2362" y="1958">guidance</text><text x="3092" y="1934">mixture</text><text x="3362" y="1934">guidance</text></g>

<!-- CLASSIFIER -->
<g font-size="20" text-anchor="end">
<text x="1829" y="2320">Full probabilistic model</text><text x="1829" y="2367">Compositions</text>
<text x="1829" y="2444">Mixtures &amp; guidance require</text><text x="1829" y="2491">Method: train classifier</text>
<text x="1829" y="2568">Terminal classifier (t = 0)</text><text x="1829" y="2615">Training data</text>
<text x="1829" y="2673">Non-terminal classifier (t &gt; 0)</text><text x="1829" y="2720">Training data</text>
</g>
<g font-size="19" font-family="Liberation Serif, serif" font-style="italic">
<text x="1847" y="2320">p̃({xₜ}) p̃(y₁|x₀) p̃(y₂|x₀)</text><text x="1847" y="2367">p̃(x | y₁=i, y₂=j)</text>
<text x="1835" y="2444">p̃(y|xₜ), ∇ log p̃(y₁,y₂|xₜ)</text><text x="1835" y="2491">Q̃φ(y₁,y₂|xₜ) ≈ p̃(y₁,y₂|xₜ)</text>
<text x="1847" y="2568">Q̃φ(y|x₀) ≈ p̃(y|x₀)</text><text x="1847" y="2615">(x̂₀, ŷ₁) ~ p̃(x₀, y₁)</text>
<text x="1847" y="2673">Q̃φ(y₁,y₂|xₜ) ≈ p̃(y₁,y₂|xₜ)</text><text x="1847" y="2720">(x̂ₜ, ŷ₁, ŷ₂) ~ p̃(xₜ, y₁, y₂)</text>
<text x="2200" y="2333" font-size="15">p̃({xₜ} | y₁=1) = p₁({xₜ})</text>
<text x="2200" y="2760" font-size="15">p̃({xₜ} | y₁=2) = p₂({xₜ})</text>
<text x="2138" y="2540" font-size="16">(I) ŷ₁ ~ p̃(y₁)</text>
<text x="2115" y="2425" font-size="17">p̃ = ½</text><text x="2115" y="2648" font-size="17">p̃ = ½</text>
<text x="2808" y="2415" font-size="17">ŷ₂ ~ Q̃φ(y | x₀ = x̂₁,₀)</text>
<text x="2808" y="2658" font-size="17">ŷ₂ ~ Q̃φ(y | x₀ = x̂₂,₀)</text>
<text x="2775" y="2475" font-size="16">(x̂₁,₀, x̂₁,ₜ, ŷ₁ = 1, ŷ₂)</text>
<text x="2775" y="2592" font-size="16">(x̂₂,₀, x̂₂,ₜ, ŷ₁ = 2, ŷ₂)</text>
<text x="2122" y="2385" font-size="16">ŷ₁ = 1</text><text x="2122" y="2686" font-size="16">ŷ₁ = 2</text>
</g>
<line x1="2180" y1="2278" x2="2180" y2="2520" stroke="#555" stroke-width="2"/><line x1="2180" y1="2550" x2="2180" y2="2778" stroke="#555" stroke-width="2"/>
<line x1="2180" y1="2278" x2="2255" y2="2278" stroke="#555" stroke-width="2"/><line x1="2180" y1="2778" x2="2255" y2="2778" stroke="#555" stroke-width="2"/>
<text x="2262" y="2284" font-size="16">(II)</text><text x="2262" y="2784" font-size="16">(II)</text>
<rect x="2110" y="2362" width="53" height="33" rx="8" fill="none" stroke="#5aa8e0" stroke-width="3"/>
<rect x="2110" y="2663" width="53" height="33" rx="8" fill="none" stroke="#c8601f" stroke-width="3"/>
<rect x="2326" y="2338" width="359" height="149" fill="url(#lg1)"/>
<rect x="2326" y="2570" width="359" height="150" fill="url(#lg2)"/>
<path d="M2326,2400 L2340,2392 L2352,2405 L2365,2395 L2380,2400 L2400,2392 L2420,2398 L2440,2390 L2460,2394 L2480,2388 L2500,2396 L2520,2394 L2540,2402 L2560,2390 L2580,2385 L2600,2382 L2620,2380 L2640,2384 L2660,2378 L2685,2377" fill="none" stroke="#333" stroke-width="1.5"/>
<path d="M2326,2625 L2340,2640 L2355,2630 L2370,2645 L2390,2635 L2410,2628 L2430,2640 L2450,2650 L2470,2670 L2490,2680 L2510,2685 L2530,2692 L2550,2688 L2570,2695 L2600,2690 L2630,2692 L2660,2688 L2685,2686" fill="none" stroke="#555" stroke-width="1.5"/>
<g fill="#000"><circle cx="2326" cy="2400" r="5"/><circle cx="2520" cy="2392" r="5"/><circle cx="2685" cy="2377" r="5"/><circle cx="2326" cy="2625" r="5"/><circle cx="2520" cy="2680" r="5"/><circle cx="2685" cy="2686" r="5"/></g>
<path d="M2262,2338 Q2262,2380 2290,2400 Q2320,2410 2290,2430 Q2262,2450 2262,2487" fill="none" stroke="#5aa8e0" stroke-width="3"/>
<path d="M2262,2570 Q2262,2610 2290,2630 Q2320,2640 2290,2660 Q2262,2680 2262,2720" fill="none" stroke="#c8601f" stroke-width="3"/>
<path d="M2688,2338 L2688,2365 Q2720,2375 2695,2395 Q2725,2410 2700,2420 Q2688,2440 2688,2487" fill="none" stroke="#5aa8e0" stroke-width="3"/>
<path d="M2688,2570 L2688,2630 Q2730,2650 2700,2660 Q2730,2680 2700,2690 Q2688,2700 2688,2720" fill="none" stroke="#c8601f" stroke-width="3"/>
<g stroke="#444" stroke-width="2" stroke-dasharray="5,4"><line x1="2690" y1="2377" x2="2780" y2="2377"/><line x1="2690" y1="2686" x2="2780" y2="2686"/></g>
<text x="2786" y="2384" font-size="16">(III)</text><text x="2786" y="2693" font-size="16">(III)</text>
<rect x="2795" y="2394" width="26" height="34" rx="7" fill="none" stroke="#5aa8e0" stroke-width="3"/>
<rect x="2795" y="2637" width="26" height="34" rx="7" fill="none" stroke="#c8601f" stroke-width="3"/>
<rect x="2767" y="2453" width="157" height="34" rx="7" fill="none" stroke="#5aa8e0" stroke-width="3"/>
<rect x="2767" y="2571" width="157" height="34" rx="7" fill="none" stroke="#c8601f" stroke-width="3"/>
<rect x="2794" y="2520" width="108" height="32" rx="7" fill="#fff" stroke="#000" stroke-width="3"/>
<rect x="2788" y="2512" width="108" height="32" rx="7" fill="#fff" stroke="#000" stroke-width="3"/>
<text x="2796" y="2534" font-size="15" font-style="italic" font-family="Liberation Serif, serif">(x̂₀, x̂ₜ, ŷ₁, ŷ₂)</text>
<g font-size="18" font-family="Liberation Serif, serif" font-style="italic">
<text x="3036" y="2240">ℒ_T(φ) = E [ −log Q̃φ(y=ŷ₁ | x₀=x̂₀) ]</text>
<text x="3090" y="2280">= E E [ −log Q̃φ(y=ŷ₁ | x₀=x̂₀) ]</text>
<text x="3130" y="2316">(I)      (II)</text>
<text x="3036" y="2377">ℒ_N(φ) = E [ −log Q̃φ(y₁=ŷ₁, y₂=ŷ₂ | xₜ=x̂ₜ) ]</text>
<text x="3090" y="2440">= E  E  E [ −log Q̃φ(y₁=ŷ₁, y₂=ŷ₂ | xₜ=x̂ₜ) ]</text>
<text x="3130" y="2498">(I)    (II)    (III)</text>
<text x="3036" y="2620">L̂_T(φ) = −½ log Q̃φ(y=1|x₀=x̂₁,₀) − ½ log Q̃φ(y=2|x₀=x̂₂,₀)</text>
<text x="3020" y="2694">L̂_N(φ,φ̄) = −½ Σ Q̃φ̄(y=ŷ₂|x₀=x̂₁,₀)·log Q̃φ(y₁=1,y₂=ŷ₂|xₜ=x̂₁,ₜ)</text>
<text x="3110" y="2740">−½ Σ Q̃φ̄(y=ŷ₂|x₀=x̂₂,₀)·log Q̃φ(y₁=2,y₂=ŷ₂|xₜ=x̂₂,ₜ)</text>
<text x="3070" y="2800">φ ← φ − optimizer_step(∇φ(L̂_T(φ) + L̂_N(φ,φ̄)))</text>
<text x="3070" y="2836">φ̄ ← βφ̄ + (1 − β)φ</text>
</g>
<text x="3000" y="2570" font-size="21">Training step</text>

<!-- EXPERIMENTS GFLOWNETS -->
<text x="3633" y="563" font-size="24" font-weight="bold">GFlowNet, 2D grid task</text>
<g>
<rect x="3666" y="603" width="150" height="149" fill="#eef3fa"/>
<g fill="#1f5aa0" filter="url(#bl)"><circle cx="3700" cy="635" r="16"/><circle cx="3782" cy="635" r="16"/><circle cx="3741" cy="678" r="14"/><circle cx="3700" cy="720" r="16"/><circle cx="3782" cy="720" r="16"/></g>
<rect x="3832" y="603" width="150" height="149" fill="#eef3fa"/>
<polygon points="3982,603 3982,752 3832,752" fill="#2c64a8" filter="url(#bl2)"/>
<rect x="3998" y="603" width="150" height="149" fill="#eef3fa"/>
<g fill="#1f5aa0" filter="url(#bl)"><circle cx="4115" cy="720" r="18"/><circle cx="4035" cy="720" r="14"/><circle cx="4115" cy="640" r="12"/><circle cx="4075" cy="690" r="10"/></g>
<rect x="4164" y="603" width="150" height="149" fill="#f3f7fc"/>
<g fill="#2c64a8" filter="url(#bl)"><circle cx="4205" cy="640" r="12"/><circle cx="4287" cy="640" r="10"/><circle cx="4205" cy="720" r="10"/><circle cx="4246" cy="680" r="8"/></g>
<rect x="4330" y="603" width="150" height="149" fill="#f3f7fc"/>
<g fill="#1f5aa0" filter="url(#bl)"><circle cx="4370" cy="640" r="16"/><circle cx="4450" cy="640" r="6"/></g>
<rect x="4490" y="603" width="12" height="149" fill="url(#cb)"/>
</g>
<g font-family="Liberation Serif, serif" font-style="italic" font-size="24" text-anchor="middle">
<text x="3741" y="804">p₁</text><text x="3907" y="804">p₂</text><text x="4073" y="804">p₁ ⊗ p₂</text><text x="4239" y="804">p₁ ◑ p₂</text><text x="4405" y="804">p₁ ◑₀.₉₅ p₂</text>
<text x="3720" y="985">p₁</text><text x="3841" y="985">p₂</text><text x="3962" y="985">p₃</text><text x="4084" y="985">p̃(x|y₁=1,y₂=2)</text><text x="4205" y="985">p̃(x|y=1,2,3)</text><text x="4326" y="985">p̃(x|y₁=2,y₂=2)</text><text x="4448" y="985">p̃(x|y=2,2,2)</text>
</g>
<g>
<rect x="3665" y="815" width="111" height="108" fill="#eaf0f8"/><rect x="3786" y="815" width="111" height="108" fill="#eaf0f8"/><rect x="3907" y="815" width="111" height="108" fill="#eaf0f8"/><rect x="4029" y="815" width="111" height="108" fill="#eaf0f8"/><rect x="4150" y="815" width="111" height="108" fill="#eaf0f8"/><rect x="4271" y="815" width="111" height="108" fill="#eaf0f8"/><rect x="4392" y="815" width="111" height="108" fill="#eaf0f8"/>
<circle cx="3712" cy="860" r="30" fill="#2558a0"/><circle cx="3843" cy="865" r="30" fill="#2a62aa"/><circle cx="3960" cy="865" r="30" fill="#2a5a9a"/>
<path d="M4085,850 L4112,835 L4118,880 L4085,888 Z" fill="#2a5a9a"/><path d="M4190,860 L4212,845 L4230,885 L4195,888 Z" fill="#1d4a88"/>
<path d="M4320,845 L4355,840 L4350,890 L4312,890 Z" fill="#9cbde0"/><path d="M4335,862 L4355,840 L4352,890 Z" fill="#1d4a88"/>
<path d="M4440,845 L4475,840 L4470,890 L4432,890 Z" fill="#b8d0ea"/><path d="M4460,870 L4478,850 L4470,890 Z" fill="#1d4a88"/>
<g fill="none" stroke="#e06060" stroke-width="1.5">
<circle cx="3700" cy="852" r="32"/><circle cx="3728" cy="852" r="32"/><circle cx="3714" cy="878" r="32"/>
<circle cx="3821" cy="852" r="32"/><circle cx="3849" cy="852" r="32"/><circle cx="3835" cy="878" r="32"/>
<circle cx="3942" cy="852" r="32"/><circle cx="3970" cy="852" r="32"/><circle cx="3956" cy="878" r="32"/>
<circle cx="4064" cy="852" r="32"/><circle cx="4092" cy="852" r="32"/><circle cx="4078" cy="878" r="32"/>
<circle cx="4185" cy="852" r="32"/><circle cx="4213" cy="852" r="32"/><circle cx="4199" cy="878" r="32"/>
<circle cx="4306" cy="852" r="32"/><circle cx="4334" cy="852" r="32"/><circle cx="4320" cy="878" r="32"/>
<circle cx="4427" cy="852" r="32"/><circle cx="4455" cy="852" r="32"/><circle cx="4441" cy="878" r="32"/>
</g>
</g>
<!-- loss charts -->
<g fill="none" stroke="#ccc" stroke-width="1"><rect x="4683" y="590" width="288" height="160"/><rect x="4683" y="822" width="297" height="158"/></g>
<path d="M4685,600 L4690,720 L4700,740 L4720,745 L4760,748 L4800,746 L4850,748 L4900,746 L4970,745" fill="none" stroke="#2a6fc0" stroke-width="2.5"/>
<path d="M4685,620 L4690,735 L4700,728 L4720,730 L4760,727 L4800,729 L4850,726 L4900,728 L4970,725" fill="none" stroke="#d9962a" stroke-width="2.5"/>
<path d="M4685,825 L4700,930 L4720,940 L4740,938 L4780,950 L4850,952 L4920,955 L4975,950" fill="none" stroke="#c8601f" stroke-width="2.5"/>
<path d="M4685,895 L4700,955 L4750,963 L4975,962" fill="none" stroke="#999" stroke-width="2.5"/>
<path d="M4685,910 L4700,960 L4750,968 L4975,967" fill="none" stroke="#2a9a6a" stroke-width="2.5"/>
<path d="M4685,960 L4700,975 L4975,976" fill="none" stroke="#e8a0d8" stroke-width="2.5"/>
<g font-size="15" font-family="Liberation Serif, serif">
<text x="4810" y="612">Terminal state loss</text><text x="4810" y="630">Non-terminal state loss</text>
<text x="4810" y="850">L₁(½p₁+½p₂, GT)</text><text x="4810" y="873">L₁(p₁⊗p₂, GT)</text><text x="4810" y="896">L₁(p₁◑p₂, GT)</text><text x="4810" y="919">L₁(p₁◑₀.₉₅p₂, GT)</text>
<text x="4680" y="1005">0   2500  5000  7500  10000  12500  15000</text>
</g>
<g stroke-width="3"><line x1="4780" y1="607" x2="4802" y2="607" stroke="#2a6fc0"/><line x1="4780" y1="625" x2="4802" y2="625" stroke="#d9962a"/><line x1="4780" y1="845" x2="4802" y2="845" stroke="#e8a0d8"/><line x1="4780" y1="868" x2="4802" y2="868" stroke="#2a9a6a"/><line x1="4780" y1="891" x2="4802" y2="891" stroke="#999"/><line x1="4780" y1="914" x2="4802" y2="914" stroke="#c8601f"/></g>
<g font-family="Liberation Serif, serif" font-size="24" text-anchor="middle">
<text x="4823" y="785">Steps</text><text x="4823" y="1017">Steps</text>
<text transform="translate(4660,685) rotate(-90)" fill="#2a6fc0" font-size="22">Terminal state loss</text>
<text transform="translate(4990,672) rotate(-90)" fill="#d9962a" font-size="22">Non-terminal state loss</text>
<text transform="translate(4668,900) rotate(-90)" font-size="22">Distribution distance (L₁)</text>
</g>
<rect x="3600" y="1040" width="1498" height="3" fill="#2d4a80"/>
<text x="3633" y="1080" font-size="24" font-weight="bold">GFlowNet, molecule generation task</text>
<g font-size="19">
<text x="3640" y="1117">Molecule generation trajectories  <tspan font-style="italic" font-family="Liberation Serif, serif">τ = (s₀ → … → sₙ₋₁ → x)</tspan></text>
<text x="3644" y="1153">●   Terminal states: <tspan font-style="italic">x ∈ 𝒳</tspan> — molecules represented as 2D graphs</text>
<text x="3644" y="1190">●   Non-terminal states: <tspan font-style="italic">s ∈ 𝒮 \ 𝒳</tspan> — (incomplete) 2D molecular graphs</text>
<text x="3644" y="1226">●   Actions:  <tspan font-style="italic">(s → s′) ∈ 𝒜</tspan> :</text>
<text x="3668" y="1263">a) attach one molecular fragment to the current molecular graph</text>
<text x="3668" y="1299">b) “stop-action”: terminate generation (only if current graph is valid)</text>
<text x="3640" y="1362">GFlowNet target distribution (at pre-training stage): <tspan font-style="italic" font-family="Liberation Serif, serif">p(x) ∝ (R(x))ᵝ</tspan></text>
<text x="3644" y="1399">●   <tspan font-style="italic">R(·) : 𝒳 → [0, ∞)</tspan> — reward function</text>
<text x="3644" y="1435">●   <tspan font-style="italic">β &gt; 0</tspan> — reward exponent</text>
<text x="3640" y="1493">Rewards</text>
<text x="3644" y="1530">●   SEH — learned proxy of a protein binding score (soluble epoxide hydrolase)</text>
<text x="3644" y="1566">●   SA — synthetic availability score</text>
<text x="3644" y="1602">●   QED — quantitative estimate of drug-likeness</text>
</g>
<g font-size="23" text-anchor="middle"><text x="3977" y="1703">2D t-SNE embeddings of distributions</text><text x="3977" y="1732">computed based on pairwise earth mover’s distances</text></g>
<rect x="3839" y="1760" width="304" height="217" fill="none" stroke="#ddd"/>
<g stroke="#222" stroke-width="1.5"><circle cx="3908" cy="1808" r="6" fill="#e8802a"/><rect x="3898" y="1830" width="13" height="13" fill="#f2b070"/><circle cx="3930" cy="1858" r="6" fill="#c8601f"/><circle cx="4003" cy="1896" r="6" fill="#aaa"/><circle cx="4027" cy="1893" r="6" fill="#c8601f"/><circle cx="4099" cy="1903" r="6" fill="#3a9a3a"/><circle cx="3880" cy="1925" r="6" fill="#2a6fc0"/><rect x="3898" y="1942" width="13" height="13" fill="#a8c8e8"/><circle cx="4010" cy="1935" r="6" fill="#c8601f"/><rect x="4074" y="1922" width="13" height="13" fill="#b8e0a0"/></g>
<g font-size="18" font-family="Liberation Serif, serif"><text x="3862" y="1802">(f)</text><text x="3948" y="1814">(a)</text><text x="3845" y="1847">p_SA</text><text x="3950" y="1878">(d)</text><text x="4040" y="1864">(c)</text><text x="4112" y="1874">(g)</text><text x="3848" y="1960">(e)</text><text x="3930" y="1962">p_SEH</text><text x="4000" y="1966">(b)</text><text x="4088" y="1962">p_QED</text></g>
<g font-size="24" text-anchor="middle"><text x="4657" y="1081">Compositions of 2 pre-trained GFlowNets,  <tspan font-style="italic">β</tspan> = 32</text><text x="4657" y="1385">Compositions of 2 pre-trained GFlowNets,  <tspan font-style="italic">β</tspan> = 96</text><text x="4657" y="1694">Compositions of 3 pre-trained GFlowNets,  <tspan font-style="italic">β</tspan> = 32</text></g>
<g font-size="14" fill="#666" text-anchor="middle"><text x="4395" y="1110">● p_SA  ● p_SEH</text><text x="4655" y="1110">● p_SEH ⊗ p_SA</text><text x="4920" y="1110">● p_SA ◑ p_SEH  ● p_SEH ◑ p_SA</text><text x="4555" y="1415">● p_SA  ● p_SEH</text><text x="4815" y="1415">● p_SEH ⊗ p_SA</text></g>
<g fill="none" stroke-width="2.5">
<rect x="4332" y="1122" width="175" height="196" stroke="#e8e8e8" stroke-width="1"/>
<ellipse cx="4400" cy="1175" rx="75" ry="25" stroke="#f0a050" fill="#fbe3cc"/><ellipse cx="4380" cy="1175" rx="30" ry="12" stroke="#e8802a"/>
<ellipse cx="4470" cy="1255" rx="35" ry="55" stroke="#5a8fc8" fill="#dbe8f5"/><ellipse cx="4470" cy="1260" rx="15" ry="25" stroke="#2a6fc0"/>
<rect x="4588" y="1122" width="173" height="196" stroke="#e8e8e8" stroke-width="1"/>
<ellipse cx="4640" cy="1175" rx="50" ry="20" stroke="#f0c090"/><ellipse cx="4700" cy="1220" rx="55" ry="55" stroke="#5ab050" fill="#e2f2dc"/><ellipse cx="4710" cy="1215" rx="22" ry="28" stroke="#3a9a3a"/><ellipse cx="4720" cy="1270" rx="25" ry="35" stroke="#a8c8e8"/>
<rect x="4846" y="1122" width="174" height="196" stroke="#e8e8e8" stroke-width="1"/>
<ellipse cx="4910" cy="1175" rx="65" ry="24" stroke="#d84040" fill="#f8dada"/><ellipse cx="4890" cy="1175" rx="22" ry="10" stroke="#c02020"/>
<ellipse cx="4985" cy="1260" rx="35" ry="55" stroke="#8a6ac0" fill="#e8e0f2"/><ellipse cx="4985" cy="1262" rx="14" ry="25" stroke="#6a4aa8"/>
<rect x="4466" y="1425" width="174" height="197" stroke="#e8e8e8" stroke-width="1"/>
<ellipse cx="4530" cy="1465" rx="70" ry="15" stroke="#f0a050" fill="#fbe3cc"/><ellipse cx="4560" cy="1465" rx="20" ry="7" stroke="#e8802a"/>
<ellipse cx="4625" cy="1545" rx="18" ry="65" stroke="#5a8fc8" fill="#dbe8f5"/><ellipse cx="4625" cy="1550" rx="8" ry="30" stroke="#2a6fc0"/>
<rect x="4726" y="1425" width="174" height="197" stroke="#e8e8e8" stroke-width="1"/>
<ellipse cx="4800" cy="1465" rx="60" ry="12" stroke="#f0c090"/><ellipse cx="4880" cy="1500" rx="32" ry="45" stroke="#5ab050" fill="#e2f2dc"/><ellipse cx="4882" cy="1490" rx="12" ry="18" stroke="#3a9a3a"/><ellipse cx="4880" cy="1560" rx="18" ry="40" stroke="#a8c8e8"/>
</g>
<g font-size="20" fill="#666" text-anchor="middle"><text x="4420" y="1345">SEH</text><text x="4675" y="1345">SEH</text><text x="4933" y="1345">SEH</text><text x="4553" y="1648">SEH</text><text x="4813" y="1648">SEH</text></g>
<!-- table -->
<g stroke="#000"><line x1="4390" y1="1705" x2="4947" y2="1705" stroke-width="2"/><line x1="4390" y1="1784" x2="4947" y2="1784" stroke-width="1"/><line x1="4390" y1="1861" x2="4947" y2="1861" stroke-width="1"/><line x1="4390" y1="1943" x2="4947" y2="1943" stroke-width="1"/><line x1="4390" y1="2022" x2="4947" y2="2022" stroke-width="2"/></g>
<g font-size="16" text-anchor="middle">
<text x="4548" y="1727">SEH</text><text x="4662" y="1727">low</text><text x="4852" y="1727">high</text>
<text x="4548" y="1754">SA</text><text x="4617" y="1754">low</text><text x="4710" y="1754">high</text><text x="4805" y="1754">low</text><text x="4898" y="1754">high</text>
<text x="4545" y="1781">QED</text>
<text x="4591" y="1781">low</text><text x="4638" y="1781">high</text><text x="4685" y="1781">low</text><text x="4733" y="1781">high</text><text x="4780" y="1781">low</text><text x="4827" y="1781">high</text><text x="4875" y="1781">low</text><text x="4922" y="1781">high</text>
</g>
<g font-size="16">
<text x="4398" y="1810">p_SEH</text><text x="4398" y="1830">p_SA</text><text x="4398" y="1850">p_QED</text>
<text x="4398" y="1878">(a) y={SEH, SA}</text><text x="4398" y="1898">(b) y={SEH, QED}</text><text x="4398" y="1917">(c) y={SA, QED}</text><text x="4398" y="1937">(d) y={SEH, SA, QED}</text>
<text x="4398" y="1963">(e) y={SEH, SEH, SEH}</text><text x="4398" y="1983">(f) y={SA, SA, SA}</text><text x="4398" y="2002">(g) y={QED, QED, QED}</text>
</g>
<g font-size="16" text-anchor="middle">
<text y="1808"><tspan x="4591">0</tspan><tspan x="4638">0</tspan><tspan x="4685">0</tspan><tspan x="4733">0</tspan><tspan x="4780" font-weight="bold">62</tspan><tspan x="4827">9</tspan><tspan x="4875" font-weight="bold">24</tspan><tspan x="4922" font-weight="bold">5</tspan></text>
<text y="1828"><tspan x="4591">0</tspan><tspan x="4638">0</tspan><tspan x="4685" font-weight="bold">73</tspan><tspan x="4733">4</tspan><tspan x="4780">0</tspan><tspan x="4827">0</tspan><tspan x="4875" font-weight="bold">18</tspan><tspan x="4922">5</tspan></text>
<text y="1848"><tspan x="4591">0</tspan><tspan x="4638" font-weight="bold">40</tspan><tspan x="4685">0</tspan><tspan x="4733" font-weight="bold">26</tspan><tspan x="4780">0</tspan><tspan x="4827" font-weight="bold">21</tspan><tspan x="4875">0</tspan><tspan x="4922" font-weight="bold">13</tspan></text>
<text y="1878"><tspan x="4591">1</tspan><tspan x="4638">0</tspan><tspan x="4685">16</tspan><tspan x="4733">2</tspan><tspan x="4780">6</tspan><tspan x="4827">3</tspan><tspan x="4875" font-weight="bold">54</tspan><tspan x="4922" font-weight="bold">18</tspan></text>
<text y="1898"><tspan x="4591">0</tspan><tspan x="4638">11</tspan><tspan x="4685">0</tspan><tspan x="4733">4</tspan><tspan x="4780">1</tspan><tspan x="4827" font-weight="bold">48</tspan><tspan x="4875">4</tspan><tspan x="4922" font-weight="bold">32</tspan></text>
<text y="1917"><tspan x="4591">0</tspan><tspan x="4638">15</tspan><tspan x="4685">1</tspan><tspan x="4733" font-weight="bold">42</tspan><tspan x="4780">0</tspan><tspan x="4827">8</tspan><tspan x="4875">2</tspan><tspan x="4922" font-weight="bold">32</tspan></text>
<text y="1937"><tspan x="4591">0</tspan><tspan x="4638">7</tspan><tspan x="4685">2</tspan><tspan x="4733">11</tspan><tspan x="4780">2</tspan><tspan x="4827">19</tspan><tspan x="4875">10</tspan><tspan x="4922" font-weight="bold">49</tspan></text>
<text y="1963"><tspan x="4591">0</tspan><tspan x="4638">0</tspan><tspan x="4685">0</tspan><tspan x="4733">0</tspan><tspan x="4780" font-weight="bold">63</tspan><tspan x="4827">9</tspan><tspan x="4875">24</tspan><tspan x="4922">4</tspan></text>
<text y="1983"><tspan x="4591">0</tspan><tspan x="4638">0</tspan><tspan x="4685" font-weight="bold">74</tspan><tspan x="4733">5</tspan><tspan x="4780">0</tspan><tspan x="4827">0</tspan><tspan x="4875">17</tspan><tspan x="4922">4</tspan></text>
<text y="2002"><tspan x="4591">0</tspan><tspan x="4638" font-weight="bold">40</tspan><tspan x="4685">0</tspan><tspan x="4733">23</tspan><tspan x="4780">0</tspan><tspan x="4827">23</tspan><tspan x="4875">0</tspan><tspan x="4922">14</tspan></text>
</g>

<!-- DIFFUSION EXPERIMENTS -->
<g font-size="24">
<text x="3626" y="2186">Three diffusion models trained on ColorMNIST, sampling from <tspan font-style="italic" font-family="Liberation Serif, serif">p₁, p₂, p₃</tspan>.</text>
<text x="3626" y="2220">Iterative composition based on observations <tspan font-style="italic" font-family="Liberation Serif, serif">y₁, y₂, y₃</tspan>:</text>
</g>
<text x="4532" y="2266" font-size="26" text-anchor="middle" font-family="Liberation Serif, serif" font-style="italic">p̃(x|y₁,y₂,y₃) ∝ p̃(x)p̃(y₁,y₂|x) p̃(y₃|x,y₁,y₂)</text>
<path d="M4465,2278 Q4465,2288 4480,2288 L4540,2288 Q4550,2288 4552,2296 Q4554,2288 4564,2288 L4622,2288 Q4635,2288 4635,2278" fill="none" stroke="#000" stroke-width="3"/>
<text x="4552" y="2320" font-size="18" text-anchor="middle" font-family="Liberation Serif, serif" font-style="italic">∝p̃(x|y₁,y₂)</text>
<g fill="#000">
<rect x="3805" y="2344" width="174" height="174"/><rect x="3985" y="2344" width="174" height="174"/><rect x="4167" y="2344" width="174" height="174"/><rect x="4348" y="2344" width="174" height="174"/><rect x="4529" y="2344" width="174" height="174"/><rect x="4712" y="2344" width="174" height="174"/>
<rect x="3805" y="2597" width="174" height="175"/><rect x="3985" y="2597" width="174" height="175"/><rect x="4167" y="2597" width="174" height="175"/><rect x="4348" y="2597" width="174" height="175"/><rect x="4529" y="2597" width="174" height="175"/><rect x="4712" y="2597" width="174" height="175"/>
</g>
<g font-family="Liberation Mono, monospace" font-size="20">
<g fill="#4fb3a9"><text x="3809" y="2364" textLength="166" lengthAdjust="spacing">10810311</text><text x="3809" y="2386" textLength="166">22232220</text><text x="3809" y="2408" textLength="166">33333021</text><text x="3809" y="2430" textLength="166">12301100</text><text x="3809" y="2452" textLength="166">13113000</text><text x="3809" y="2474" textLength="166">10321312</text><text x="3809" y="2496" textLength="166">01322380</text><text x="3809" y="2517" textLength="166">31303201</text></g>
<g fill="#e0b45a"><text x="3989" y="2364" textLength="166">11100100</text><text x="3989" y="2386" textLength="166" fill="#4fb3a9">01101101</text><text x="3989" y="2408" textLength="166">00110111</text><text x="3989" y="2430" textLength="166" fill="#4fb3a9">11100110</text><text x="3989" y="2452" textLength="166">01000001</text><text x="3989" y="2474" textLength="166" fill="#4fb3a9">11010110</text><text x="3989" y="2496" textLength="166">11011011</text><text x="3989" y="2517" textLength="166">11010110</text></g>
<g fill="#4fb3a9"><text x="4171" y="2364" textLength="166" fill="#e0b45a">22222000</text><text x="4171" y="2386" textLength="166">02022220</text><text x="4171" y="2408" textLength="166" fill="#e0b45a">22002220</text><text x="4171" y="2430" textLength="166">02022000</text><text x="4171" y="2452" textLength="166" fill="#e0b45a">22222022</text><text x="4171" y="2474" textLength="166">02002002</text><text x="4171" y="2496" textLength="166" fill="#e0b45a">22022000</text><text x="4171" y="2517" textLength="166">20202220</text></g>
<g fill="#4fb3a9"><text x="4352" y="2364" textLength="166">33333333</text><text x="4352" y="2386" textLength="166">33333333</text><text x="4352" y="2408" textLength="166">33333333</text><text x="4352" y="2430" textLength="166">33333333</text><text x="4352" y="2452" textLength="166">33333333</text><text x="4352" y="2474" textLength="166">33333333</text><text x="4352" y="2496" textLength="166">33333333</text><text x="4352" y="2517" textLength="166">33333333</text></g>
<g fill="#e0b45a"><text x="4533" y="2364" textLength="166">11111111</text><text x="4533" y="2386" textLength="166">11111111</text><text x="4533" y="2408" textLength="166">11111111</text><text x="4533" y="2430" textLength="166">11111111</text><text x="4533" y="2452" textLength="166">11111111</text><text x="4533" y="2474" textLength="166">11111111</text><text x="4533" y="2496" textLength="166">11111111</text><text x="4533" y="2517" textLength="166">11111111</text></g>
<g fill="#e0b45a"><text x="4716" y="2364" textLength="166">22222222</text><text x="4716" y="2386" textLength="166">22222222</text><text x="4716" y="2408" textLength="166">22222222</text><text x="4716" y="2430" textLength="166">22222222</text><text x="4716" y="2452" textLength="166">22222222</text><text x="4716" y="2474" textLength="166">22222222</text><text x="4716" y="2496" textLength="166">22222222</text><text x="4716" y="2517" textLength="166">22222222</text></g>
<g fill="#4fb3a9"><text x="3809" y="2617" textLength="166">11111111</text><text x="3809" y="2639" textLength="166">11111111</text><text x="3809" y="2661" textLength="166">11111111</text><text x="3809" y="2683" textLength="166">11111111</text><text x="3809" y="2705" textLength="166">11111111</text><text x="3809" y="2727" textLength="166">11111111</text><text x="3809" y="2749" textLength="166">11111111</text><text x="3809" y="2771" textLength="166">11111111</text></g>
<g fill="#4fb3a9"><text x="3989" y="2617" textLength="166">22222222</text><text x="3989" y="2639" textLength="166">22222222</text><text x="3989" y="2661" textLength="166">22222222</text><text x="3989" y="2683" textLength="166">22222222</text><text x="3989" y="2705" textLength="166">22222222</text><text x="3989" y="2727" textLength="166">22222222</text><text x="3989" y="2749" textLength="166">22222222</text><text x="3989" y="2771" textLength="166">22222222</text></g>
<g fill="#e0b45a"><text x="4171" y="2617" textLength="166">00000000</text><text x="4171" y="2639" textLength="166">00000000</text><text x="4171" y="2661" textLength="166">00000000</text><text x="4171" y="2683" textLength="166">00000000</text><text x="4171" y="2705" textLength="166">00000000</text><text x="4171" y="2727" textLength="166">00000000</text><text x="4171" y="2749" textLength="166">00000000</text><text x="4171" y="2771" textLength="166">00000000</text></g>
<g fill="#4fb3a9"><text x="4352" y="2617" textLength="166">00000000</text><text x="4352" y="2639" textLength="166">00000000</text><text x="4352" y="2661" textLength="166">00000000</text><text x="4352" y="2683" textLength="166">00000000</text><text x="4352" y="2705" textLength="166">00000000</text><text x="4352" y="2727" textLength="166">00000000</text><text x="4352" y="2749" textLength="166">00000000</text><text x="4352" y="2771" textLength="166">00000000</text></g>
<g fill="#4fb3a9"><text x="4533" y="2617" textLength="166">11111011</text><text x="4533" y="2639" textLength="166">01011111</text><text x="4533" y="2661" textLength="166">01111111</text><text x="4533" y="2683" textLength="166">11000111</text><text x="4533" y="2705" textLength="166">01101011</text><text x="4533" y="2727" textLength="166">01111110</text><text x="4533" y="2749" textLength="166">10110111</text><text x="4533" y="2771" textLength="166">11101111</text></g>
<g fill="#3a8a80"><text x="4716" y="2617" textLength="166">11111111</text><text x="4716" y="2639" textLength="166">11111111</text><text x="4716" y="2661" textLength="166">11111111</text><text x="4716" y="2683" textLength="166">11111111</text><text x="4716" y="2705" textLength="166">11111111</text><text x="4716" y="2727" textLength="166">11111111</text><text x="4716" y="2749" textLength="166">11111111</text><text x="4716" y="2771" textLength="166">11111111</text></g>
</g>
<g font-family="Liberation Serif, serif" font-style="italic" font-size="24" text-anchor="middle">
<text x="3891" y="2566">p₁</text><text x="4072" y="2566">p₂</text><text x="4254" y="2566">p₃</text><text x="4435" y="2566">p̃(x|y₁=1,y₂=1)</text><text x="4616" y="2566">p̃(x|y₁=2,y₂=2)</text><text x="4799" y="2566">p̃(x|y₁=3,y₂=3)</text>
<text x="3891" y="2822" font-size="21">p̃(x|y₁=1,y₂=2)</text><text x="4072" y="2822" font-size="21">p̃(x|y₁=1,y₂=3)</text><text x="4254" y="2822" font-size="21">p̃(x|y₁=2,y₂=3)</text><text x="4435" y="2822" font-size="20">p̃(x|y=1,2,3)</text><text x="4616" y="2822" font-size="20">p̃(x|y=1,2,1)</text><text x="4799" y="2822" font-size="20">p̃(x|y=1,2,2)</text>
</g>
</svg>
</body></html>
